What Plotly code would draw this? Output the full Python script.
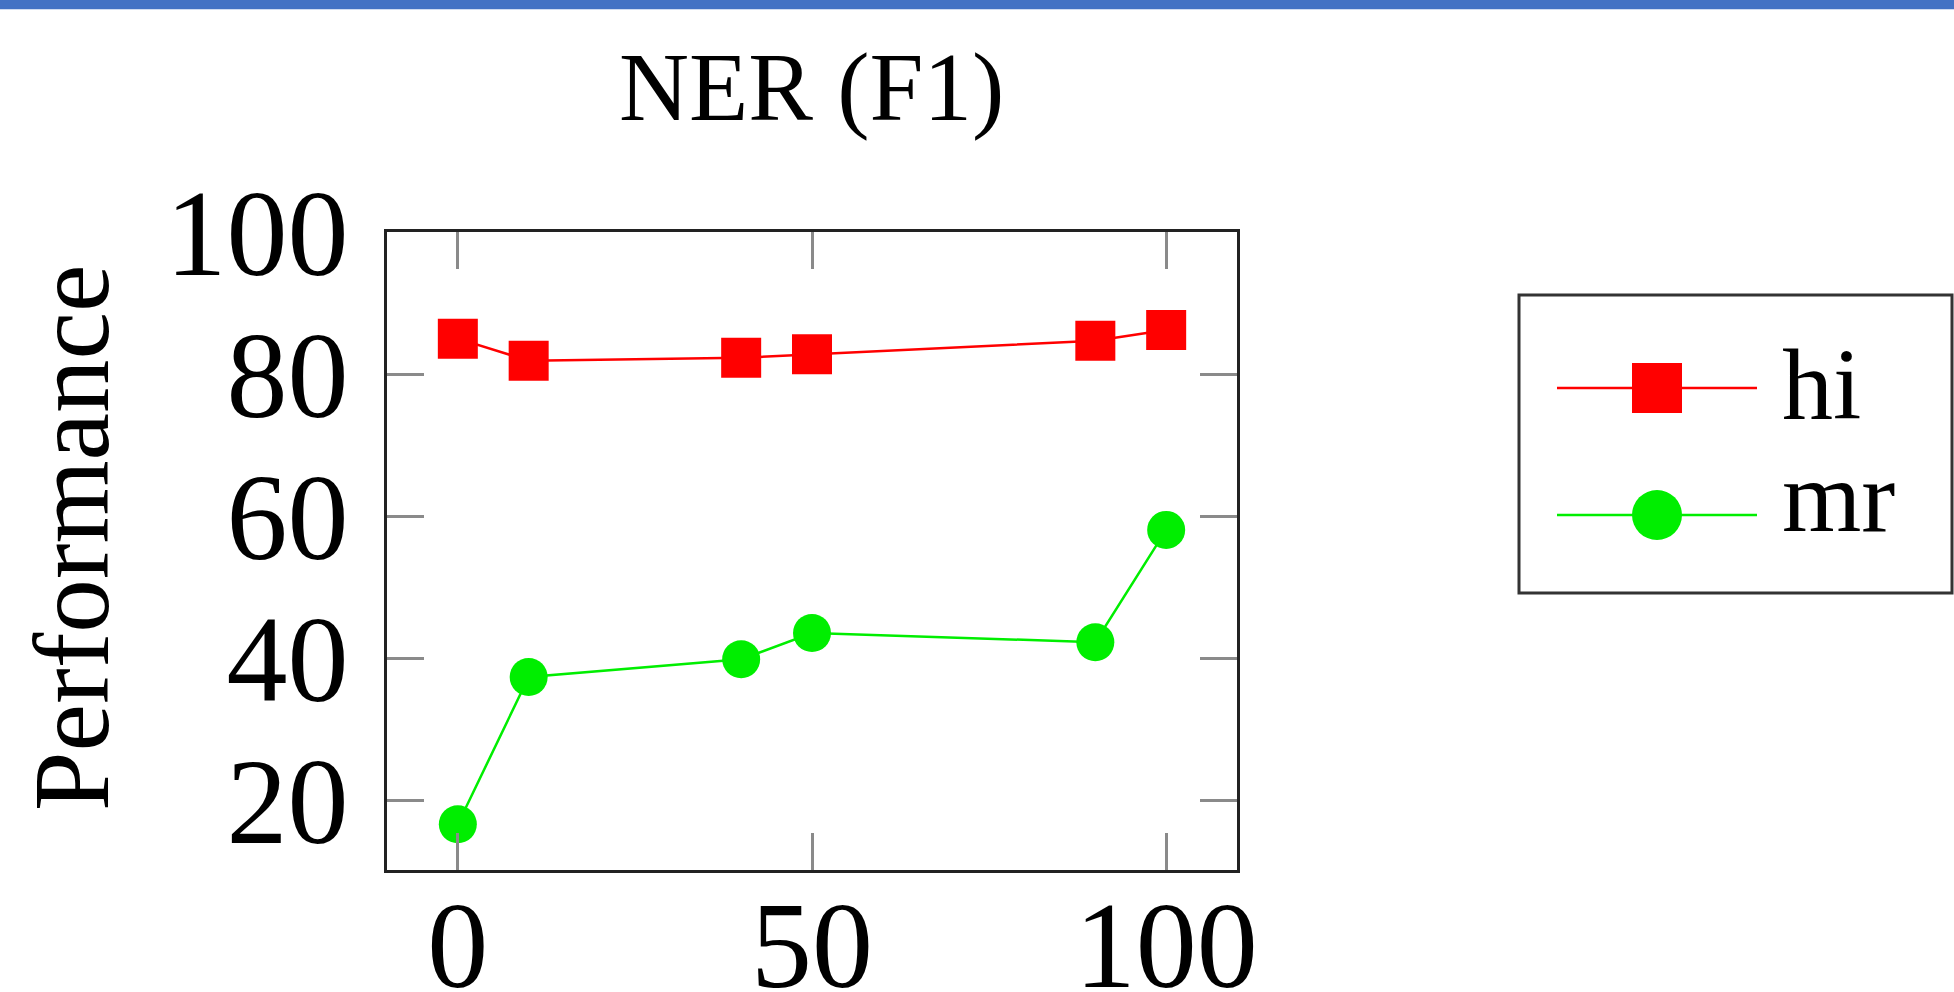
import plotly.graph_objects as go

# ---- data ----
x_vals = [0, 10, 40, 50, 90, 100]
hi_vals = [85.0, 81.9, 82.3, 82.8, 84.7, 86.2]
mr_vals = [16.7, 37.4, 39.9, 43.6, 42.3, 58.1]
series_names = ["hi", "mr"]
x_ticks = [0, 50, 100]
y_ticks = [20, 40, 60, 80, 100]
title_text = "NER (F1)"
ylabel_text = "Performance"

RED = "#ff0000"
GREEN = "#00ee00"
FONT = "Liberation Serif"

W, H = 1954, 992
L, R, T, B = 387, 717, 232, 122
PW = W - L - R
PH = H - T - B


def px(xp):
    return (xp - L) / PW


def py(yp):
    return (H - B - yp) / PH


fig = go.Figure()
fig.add_trace(go.Scatter(
    x=x_vals, y=hi_vals, mode="lines+markers", name=series_names[0],
    line=dict(color=RED, width=2.5),
    marker=dict(symbol="square", size=40, color=RED),
    showlegend=False, cliponaxis=False))
fig.add_trace(go.Scatter(
    x=x_vals, y=mr_vals, mode="lines+markers", name=series_names[1],
    line=dict(color=GREEN, width=2.5),
    marker=dict(symbol="circle", size=38, color=GREEN),
    showlegend=False, cliponaxis=False))

axis_common = dict(
    ticks="inside", ticklen=37, tickwidth=3, tickcolor="#8a8a8a",
    showline=True, linecolor="#222222", linewidth=3, mirror="ticks",
    showgrid=False, zeroline=False, automargin=False,
    tickfont=dict(family=FONT, size=122, color="black"),
)
fig.update_xaxes(range=[-10, 110], tickvals=x_ticks, ticktext=[str(v) for v in x_ticks],
                 ticklabelstandoff=-32, **axis_common)
fig.update_yaxes(range=[10.26, 100], tickvals=y_ticks, ticktext=[str(v) for v in y_ticks],
                 ticklabelstandoff=11, **axis_common)

shapes = []
# top blue bar
shapes.append(dict(type="rect", xref="paper", yref="paper",
                   x0=px(0), x1=px(W), y0=py(9.3), y1=py(0),
                   fillcolor="#4472c4", line=dict(width=0), layer="above"))
# legend box
shapes.append(dict(type="rect", xref="paper", yref="paper",
                   x0=px(1519), x1=px(1952), y0=py(593), y1=py(295),
                   fillcolor="white", line=dict(color="#333333", width=3)))
legend_rows = [(388, RED, "square"), (515, GREEN, "circle")]
for yc, col, sym in legend_rows:
    shapes.append(dict(type="line", xref="paper", yref="paper",
                       x0=px(1557), x1=px(1757), y0=py(yc), y1=py(yc),
                       line=dict(color=col, width=2.5)))
    shapes.append(dict(type="rect" if sym == "square" else "circle",
                       xref="paper", yref="paper",
                       x0=px(1632), x1=px(1682), y0=py(yc + 25), y1=py(yc - 25),
                       fillcolor=col, line=dict(width=0)))

annotations = [
    dict(text=title_text, xref="paper", yref="paper", x=px(811.8), y=py(88),
         xanchor="center", yanchor="middle", showarrow=False,
         font=dict(family=FONT, size=97, color="black")),
    dict(text=ylabel_text, xref="paper", yref="paper", x=px(72), y=py(538),
         xanchor="center", yanchor="middle", showarrow=False, textangle=-90,
         font=dict(family=FONT, size=107, color="black")),
    dict(text=series_names[0], xref="paper", yref="paper", x=px(1780), y=py(384),
         xanchor="left", yanchor="middle", showarrow=False, height=110, valign="middle",
         font=dict(family=FONT, size=102, color="black")),
    dict(text=series_names[1], xref="paper", yref="paper", x=px(1780), y=py(496),
         xanchor="left", yanchor="middle", showarrow=False, height=110, valign="middle",
         font=dict(family=FONT, size=102, color="black")),
]

fig.update_layout(
    width=W, height=H,
    margin=dict(l=L, r=R, t=T, b=B, pad=0, autoexpand=False),
    paper_bgcolor="white", plot_bgcolor="white",
    shapes=shapes, annotations=annotations,
    showlegend=False,
)

fig.write_html("out.html", config={"displayModeBar": False},
               post_script="document.body.style.margin='0';document.body.style.overflow='hidden';")
